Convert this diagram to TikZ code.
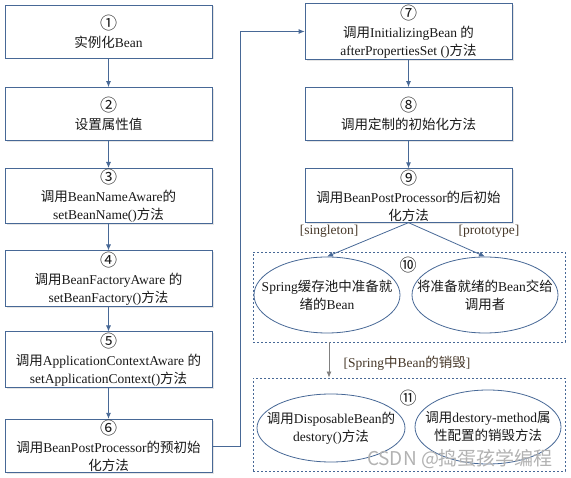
\documentclass[tikz,border=0pt]{standalone}
\usepackage{fontspec}
\setmainfont{Liberation Serif}
\newfontfamily\zhfont{Noto Sans CJK SC}
\newcommand{\zh}[1]{{\zhfont #1}}
\newcommand{\stepno}[1]{{\zhfont\fontsize{17}{18}\selectfont #1}}
\usetikzlibrary{arrows.meta,shapes.geometric,shadows}
\definecolor{edge}{RGB}{71,104,150}
\definecolor{lbltext}{RGB}{70,55,40}
\tikzset{
  stepbox/.style={draw=edge,fill=white,thick,minimum width=207pt,minimum height=53pt,inner sep=1pt,align=center,
    drop shadow={shadow xshift=1.5pt,shadow yshift=-1.5pt,fill=black!20}},
  oval/.style={ellipse,draw=edge,thick,fill=white,inner sep=0pt},
  ovaltext/.style={align=center,inner sep=0pt},
  group/.style={draw=edge,thick,dash pattern=on 2pt off 2pt,minimum width=312pt,inner sep=0pt},
  flow/.style={draw=edge,thick,-{Latex[length=6pt,width=5pt]}},
  lbl/.style={text=lbltext,inner sep=1pt}
}
\begin{document}
\begin{tikzpicture}[x=1pt,y=-1pt,font=\fontsize{13.5}{18}\selectfont,text=black!90]
\useasboundingbox (0,0) rectangle (571,478);
% left column
\node[stepbox] (b1) at (108.5,31.5) {\stepno{①}\\\zh{实例化}Bean};
\node[stepbox] (b2) at (108.5,114) {\stepno{②}\\\zh{设置属性值}};
\node[stepbox] (b3) at (108.5,196) {\stepno{③}\\\zh{调用}BeanNameAware\zh{的}\\setBeanName()\zh{方法}};
\node[stepbox] (b4) at (108.5,278.5) {\stepno{④}\\\zh{调用}BeanFactoryAware \zh{的}\\setBeanFactory()\zh{方法}};
\node[stepbox] (b5) at (108.5,359.5) {\stepno{⑤}\\\zh{调用}ApplicationContextAware \zh{的}\\setApplicationContext()\zh{方法}};
\node[stepbox] (b6) at (108.5,446) {\stepno{⑥}\\\zh{调用}BeanPostProcessor\zh{的预初始}\\\zh{化方法}};
% right column
\node[stepbox] (b7) at (408.5,31.5) {\stepno{⑦}\\\zh{调用}InitializingBean \zh{的}\\afterPropertiesSet ()\zh{方法}};
\node[stepbox] (b8) at (408.5,114) {\stepno{⑧}\\\zh{调用定制的初始化方法}};
\node[stepbox] (b9) at (408.5,195.5) {\stepno{⑨}\\\zh{调用}BeanPostProcessor\zh{的后初始}\\\zh{化方法}};
\foreach \a/\b in {b1/b2,b2/b3,b3/b4,b4/b5,b5/b6,b7/b8,b8/b9}{\draw[flow] (\a) -- (\b);}
\coordinate (turn) at (240,446);
\draw[flow] (b6.east) -- (turn) |- (b7.west);
% groups 10 and 11
\node[group,minimum height=90pt] (g10) at (409,297) {};
\node[group,minimum height=93pt] (g11) at (409,424.5) {};
\node (n10) at (408,265) {\stepno{⑩}};
\node (n11) at (408,398) {\stepno{⑪}};
\node[oval,minimum width=146pt,minimum height=76pt,label={[ovaltext]center:Spring\zh{缓存池中准备就}\\\zh{绪的}Bean}] (e10a) at (327,295) {};
\node[oval,minimum width=146pt,minimum height=76pt,label={[ovaltext]center:\zh{将准备就绪的}Bean\zh{交给}\\\zh{调用者}}] (e10b) at (485,295) {};
\node[oval,minimum width=148pt,minimum height=68pt,label={[ovaltext]center:\zh{调用}DisposableBean\zh{的}\\destory()\zh{方法}}] (e11a) at (331,428) {};
\node[oval,minimum width=146pt,minimum height=74pt,label={[ovaltext]center:\zh{调用}destory-method\zh{属}\\\zh{性配置的销毁方法}}] (e11b) at (488,427) {};
\draw[flow] (b9.south) -- (e10a.north);
\draw[flow] (b9.south) -- (e10b.north);
\node[lbl,anchor=north east] (sgl) at ([xshift=-49pt,yshift=-1pt]b9.south) {[singleton]};
\node[lbl,anchor=north west] (ptt) at ([xshift=49pt,yshift=-1pt]b9.south) {[prototype]};
\draw[thick,black!50,-{Latex[length=6pt,width=5pt]}] ([xshift=2pt]g10.south -| e10a.south) -- ([xshift=2pt]g11.north -| e10a.south);
\node[lbl] (dst) at (407,363) {[Spring\zh{中}Bean\zh{的销毁}]};
% watermark
\node[text=black!30,font=\zhfont\fontsize{19}{21}\selectfont] (mark) at (460,459) {CSDN @捣蛋孩学编程};
\end{tikzpicture}
\end{document}
